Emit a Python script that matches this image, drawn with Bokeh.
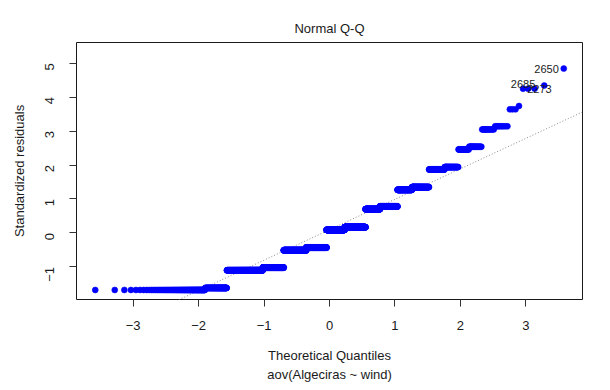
import math
from statistics import NormalDist

import numpy as np
from bokeh.plotting import figure
from bokeh.models import FixedTicker, ColumnDataSource, Range1d
from bokeh.embed import file_html
from bokeh.resources import INLINE
from bokeh.core.properties import value

# ---- data ----
# distinct standardized-residual levels (sorted) and how many observations sit on each
resid_levels = [-1.68, -1.62, -1.10, -1.02, -0.51, -0.43, 0.09, 0.17, 0.70, 0.78,
                1.27, 1.35, 1.87, 1.94, 2.46, 2.54, 3.05, 3.14, 3.64, 3.74,
                4.25, 4.34, 4.84]
level_counts = [83, 86, 277, 256, 346, 350, 316, 342, 204, 207,
                132, 115, 72, 43, 23, 19, 12, 8, 3, 1,
                3, 1, 1]
# observation ids of the three largest residuals (largest first)
outlier_ids = ["2650", "2685", "2273"]
x_ticks = [-3, -2, -1, 0, 1, 2, 3]
y_ticks = [-1, 0, 1, 2, 3, 4, 5]

# ---- Q-Q computation ----
resid = np.repeat(np.array(resid_levels), level_counts)
n = len(resid)
nd = NormalDist()
theo = np.array([nd.inv_cdf((i - 0.5) / n) for i in range(1, n + 1)])

q1y, q3y = np.quantile(resid, [0.25, 0.75])
q1x, q3x = nd.inv_cdf(0.25), nd.inv_cdf(0.75)
slope = (q3y - q1y) / (q3x - q1x)
intercept = q1y - slope * q1x

# R-like axis limits
xlo, xhi = theo.min(), theo.max()
dx = xhi - xlo
ylo, yhi = resid.min(), resid.max()
yhi2 = yhi + 0.075 * (yhi - ylo)
dy = yhi2 - ylo

FONT = "Liberation Sans"

p = figure(frame_width=506, frame_height=257,
           min_border_left=76, min_border_right=22,
           min_border_top=42, min_border_bottom=87,
           x_range=Range1d(xlo - 0.04 * dx, xhi + 0.04 * dx),
           y_range=Range1d(ylo - 0.04 * dy, yhi2 + 0.04 * dy),
           output_backend="svg", toolbar_location=None,
           title="Normal Q-Q")

p.background_fill_color = "white"
p.border_fill_color = "white"
p.outline_line_color = "#1a1a1a"
p.outline_line_width = 1
p.grid.visible = False

p.title.align = "center"
p.title.text_font = FONT
p.title.text_font_size = "13px"
p.title.text_font_style = "normal"
p.title.text_color = "#1a1a1a"
p.title.standoff = 13

for ax in (p.xaxis[0], p.yaxis[0]):
    ax.axis_line_color = None
    ax.major_tick_line_color = "#333333"
    ax.major_tick_out = 7
    ax.major_tick_in = 0
    ax.minor_tick_line_color = None
    ax.major_label_text_font = FONT
    ax.major_label_text_font_size = "13px"
    ax.major_label_text_color = "#1a1a1a"
    ax.axis_label_text_font = FONT
    ax.axis_label_text_font_size = "13px"
    ax.axis_label_text_font_style = "normal"
    ax.axis_label_text_color = "#1a1a1a"

p.xaxis[0].ticker = FixedTicker(ticks=x_ticks)
p.yaxis[0].ticker = FixedTicker(ticks=y_ticks)
p.xaxis[0].axis_label = "Theoretical Quantiles\naov(Algeciras ~ wind)"
p.xaxis[0].axis_label_text_line_height = 1.3
p.yaxis[0].axis_label = "Standardized residuals"
p.xaxis[0].major_label_standoff = 14
p.xaxis[0].axis_label_standoff = 15
p.yaxis[0].major_label_orientation = math.pi / 2
p.yaxis[0].major_label_standoff = 20
p.yaxis[0].axis_label_standoff = 11

# reference line (qqline through quartiles)
lx = np.array([xlo - dx, xhi + dx])
p.line(lx, intercept + slope * lx, line_color="#8c8c8c", line_width=1, line_dash="1 2")

# points
p.scatter(theo, resid, size=6, fill_color="#0000ff", line_color="#0000ff", line_width=0.5)

# labels for the three largest residuals
order = np.argsort(resid)[::-1][:3]
lab = ColumnDataSource(dict(x=theo[order], y=resid[order], t=outlier_ids,
                            xo=[-5, -9, 17], yo=[0, -2, 0]))
p.text(x="x", y="y", text="t", x_offset="xo", y_offset="yo", source=lab,
       text_align="right", text_baseline="middle", text_font_size=value("11px"),
       text_font=value(FONT), text_color="#1a1a1a")

open("out.html", "w").write(file_html(p, INLINE))
